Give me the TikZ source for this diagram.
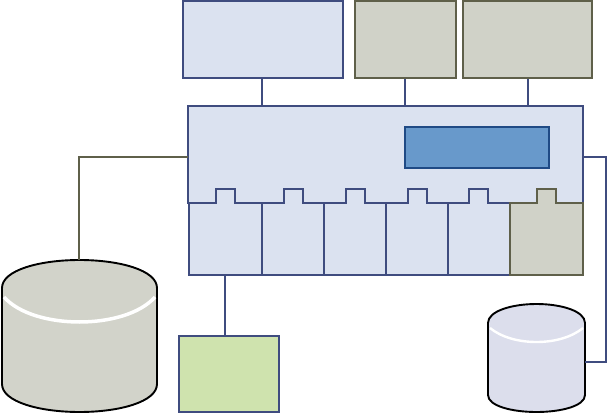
\documentclass[tikz,border=0pt]{standalone}
\definecolor{paleblue}{HTML}{DBE2F0}
\definecolor{navyline}{HTML}{3F4C7F}
\definecolor{paleolive}{HTML}{D0D2C8}
\definecolor{oliveline}{HTML}{5F604A}
\definecolor{midblue}{HTML}{6899CB}
\definecolor{deepblue}{HTML}{1F4A85}
\definecolor{palegreen}{HTML}{CFE3AE}
\definecolor{diskolive}{HTML}{D2D3CA}
\definecolor{disklilac}{HTML}{DCDEEC}
\tikzset{
  bluebox/.style={draw=navyline, fill=paleblue, line width=1.9pt, inner sep=0pt},
  olivebox/.style={draw=oliveline, fill=paleolive, line width=1.9pt, inner sep=0pt},
  blueline/.style={draw=navyline, line width=1.9pt},
  oliveline/.style={draw=oliveline, line width=1.9pt},
  disk/.style={draw=black, line width=1.9pt},
  gleam/.style={draw=white, line width=3.5pt},
}
\begin{document}
\begin{tikzpicture}[x=1pt, y=-1pt]
  \useasboundingbox (0, 0) rectangle (607, 414);
  \node (upperleft) [bluebox, minimum width=160pt, minimum height=77.5pt] at (263, 39.5) {};
  \node (uppermid) [olivebox, minimum width=101pt, minimum height=77.5pt] at (405.5, 39.5) {};
  \node (upperright) [olivebox, minimum width=129pt, minimum height=77.5pt] at (527.5, 39.5) {};
  \node (chassis) [bluebox, minimum width=395pt, minimum height=97pt] at (385.5, 154.5) {};
  \node (panel) [draw=deepblue, fill=midblue, line width=1.9pt, inner sep=0pt, minimum width=144pt, minimum height=41pt] at (477, 147.5) {};
  \coordinate (chassisleft) at (188, 157);
  \coordinate (chassisright) at (583, 157);
  % modules with their tabs
  \foreach \name/\l/\r/\t in {a/189/262/216, b/262/324/284, c/324/386/346, d/386/448/408, e/448/510/469} {
    \draw [bluebox] (\l, 275) -- (\l, 203) -- (\t, 203) -- (\t, 189) -- (\t + 19, 189) -- (\t + 19, 203) -- (\r, 203) -- (\r, 275) -- cycle;
    \node (slot\name) [inner sep=0pt, minimum width=\r pt - \l pt, minimum height=72pt] at ({(\l + \r) / 2}, 239) {};
  }
  \draw [olivebox] (510, 275) -- (510, 203) -- (537, 203) -- (537, 189) -- (556, 189) -- (556, 203) -- (583, 203) -- (583, 275) -- cycle;
  \node (greenbox) [draw=navyline, fill=palegreen, line width=1.9pt, inner sep=0pt, minimum width=100pt, minimum height=76pt] at (229, 374) {};
  % disks
  \node (bigdisk) [inner sep=0pt, minimum width=155pt, minimum height=152pt] at (79.5, 336) {};
  \node (smalldisk) [inner sep=0pt, minimum width=97pt, minimum height=108pt] at (536.5, 358) {};
  \coordinate (smalldiskport) at (585, 362);
  \draw [disk, fill=diskolive] (2, 288) .. controls (2, 270) and (40, 260) .. (79.5, 260) .. controls (119, 260) and (157, 270) .. (157, 288) -- (157, 384) .. controls (157, 402) and (119, 412) .. (79.5, 412) .. controls (40, 412) and (2, 402) .. (2, 384) -- cycle;
  \draw [gleam] (4, 297) .. controls (19, 314) and (50, 322) .. (79.5, 322) .. controls (109, 322) and (140, 314) .. (155, 297);
  \draw [disk, fill=disklilac] (488, 323) .. controls (488, 311) and (512, 304) .. (536.5, 304) .. controls (561, 304) and (585, 311) .. (585, 323) -- (585, 395) .. controls (585, 406) and (561, 412) .. (536.5, 412) .. controls (512, 412) and (488, 406) .. (488, 395) -- cycle;
  \draw [draw=white, line width=2.4pt] (490, 328) .. controls (501, 337) and (518, 342) .. (536.5, 342) .. controls (555, 342) and (572, 337) .. (583, 328);
  % links
  \draw [blueline] ([xshift=-1pt]upperleft.south) -- ([xshift=-1pt]upperleft.south |- chassis.north);
  \draw [blueline] ([xshift=-0.5pt]uppermid.south) -- ([xshift=-0.5pt]uppermid.south |- chassis.north);
  \draw [blueline] ([xshift=0.5pt]upperright.south) -- ([xshift=0.5pt]upperright.south |- chassis.north);
  \draw [oliveline] (chassisleft) -| ([xshift=-0.5pt]bigdisk.north);
  \draw [blueline] (chassisright) -- (606, 157) |- (smalldiskport);
  \draw [blueline] ([xshift=-0.5pt]slota.south) -- ([xshift=-0.5pt]slota.south |- greenbox.north);
\end{tikzpicture}
\end{document}
